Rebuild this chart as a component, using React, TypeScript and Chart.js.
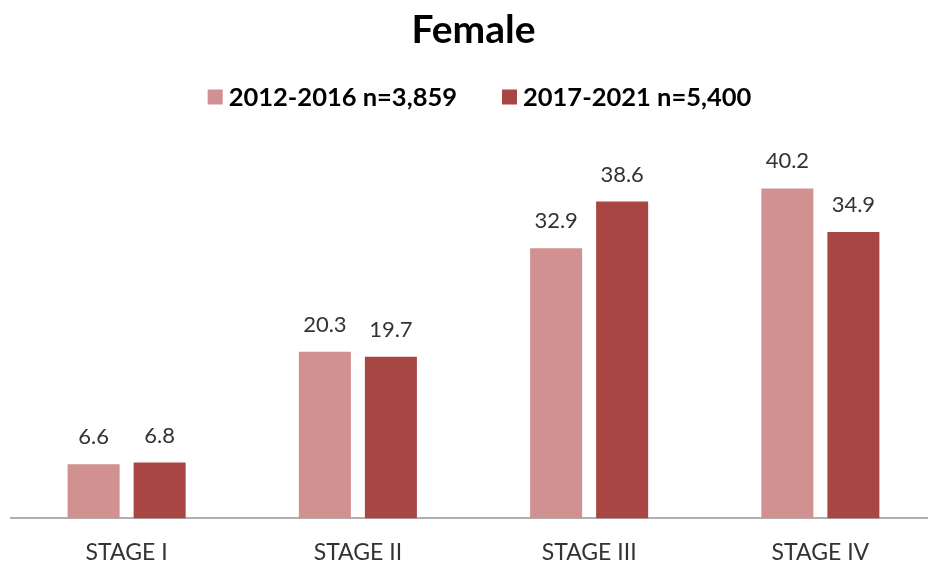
import React, { useEffect, useRef } from "react";
import { Chart, registerables } from "chart.js";

Chart.register(...registerables);

const categories = ["STAGE I", "STAGE II", "STAGE III", "STAGE IV"];
const seriesNames = ["2012-2016 n=3,859", "2017-2021 n=5,400"];
const series2012 = [6.6, 20.3, 32.9, 40.2];
const series2017 = [6.8, 19.7, 38.6, 34.9];
const colors = ["#D19191", "#A84644"];
const titleText = "Female";

const FONT = "Lato, 'Open Sans', sans-serif";

const valueLabels = {
  id: "valueLabels",
  afterDatasetsDraw(chart: any) {
    const ctx = chart.ctx;
    ctx.save();
    ctx.font = `22px ${FONT}`;
    ctx.fillStyle = "#333333";
    ctx.textAlign = "center";
    ctx.textBaseline = "middle";
    chart.data.datasets.forEach((ds: any, di: number) => {
      const meta = chart.getDatasetMeta(di);
      meta.data.forEach((bar: any, i: number) => {
        ctx.fillText(Number(ds.data[i]).toFixed(1), bar.x, bar.y - 27);
      });
    });
    ctx.restore();
  },
};

const customLegend = {
  id: "customLegend",
  afterDraw(chart: any) {
    const ctx = chart.ctx;
    ctx.save();
    ctx.font = `bold 25.5px ${FONT}`;
    ctx.textBaseline = "middle";
    ctx.textAlign = "left";
    const box = 15;
    const gap = 6;
    const itemGap = 45;
    const ds = chart.data.datasets;
    const widths = ds.map((d: any) => box + gap + ctx.measureText(d.label).width);
    const total = widths.reduce((a: number, b: number) => a + b, 0) + itemGap * (ds.length - 1);
    const cx = 479.5;
    const cy = 97;
    let x = cx - total / 2;
    ds.forEach((d: any, i: number) => {
      ctx.fillStyle = d.backgroundColor;
      ctx.fillRect(x, cy - box / 2, box, box);
      ctx.fillStyle = "#000000";
      ctx.fillText(d.label, x + box + gap, cy + 1);
      x += widths[i] + itemGap;
    });
    ctx.restore();
  },
};

export default function App() {
  const ref = useRef<HTMLCanvasElement | null>(null);
  useEffect(() => {
    if (!ref.current) return;
    const chart = new Chart(ref.current, {
      type: "bar",
      data: {
        labels: categories,
        datasets: [
          { label: seriesNames[0], data: series2012, backgroundColor: colors[0] },
          { label: seriesNames[1], data: series2017, backgroundColor: colors[1] },
        ],
      },
      options: {
        animation: false,
        responsive: false,
        maintainAspectRatio: false,
        layout: { padding: { left: 11, right: 4, top: 0, bottom: 1 } },
        datasets: {
          bar: { categoryPercentage: 0.571, barPercentage: 0.788 },
        },
        plugins: {
          title: {
            display: true,
            text: titleText,
            color: "#000000",
            font: { family: FONT, size: 39, weight: "bold" },
            padding: { top: 7, bottom: 95.2 },
          },
          legend: { display: false },
          tooltip: { enabled: false },
        },
        scales: {
          x: {
            grid: { display: false },
            border: { display: true, color: "#B0B0B0", width: 2 },
            ticks: { color: "#333333", font: { family: FONT, size: 23 }, padding: 12 },
          },
          y: {
            display: false,
            min: 0,
            max: 45,
          },
        },
      },
      plugins: [valueLabels, customLegend],
    });
    return () => chart.destroy();
  }, []);
  return (
    <div style={{ position: "absolute", left: 0, top: 0, width: 928, height: 564, overflow: "hidden", background: "#fff" }}>
      <canvas ref={ref} width={940} height={579} style={{ display: "block" }} />
    </div>
  );
}
